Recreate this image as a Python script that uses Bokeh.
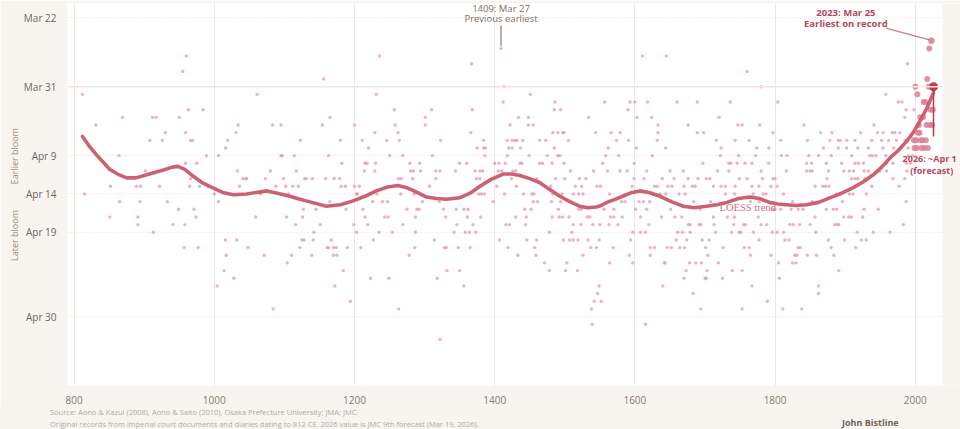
from bokeh.plotting import figure
from bokeh.layouts import column
from bokeh.models import Range1d, FixedTicker, Label, Span, Div, BoxAnnotation
from bokeh.embed import file_html
from bokeh.resources import INLINE

# ---------------- data ----------------
x_ticks = [800, 1000, 1200, 1400, 1600, 1800, 2000]
y_ticks = [81, 90, 99, 104, 109, 120]
y_tick_labels = ["Mar 22", "Mar 31", "Apr 9", "Apr 14", "Apr 19", "Apr 30"]

# observed full-flowering day-of-year rows, with the years recorded on each row
row_doy = [85, 86, 87, 88, 89, 90, 91, 92, 93, 94, 95, 96, 97, 98, 99, 100, 101, 102, 103,
           104, 105, 106, 107, 108, 109, 110, 111, 112, 113, 114, 115, 116, 117, 118, 119, 121, 123]
row_years = [
    [1409],
    [960, 1236, 1611, 1645],
    [1367, 1989],
    [955, 1760],
    [1156],
    [1413, 1780],
    [812, 1061, 1231, 1451, 1958],
    [1412, 1486, 1557, 1593, 1600, 1618, 1660, 1689, 1736, 1804, 1976, 1981],
    [963, 984, 1257, 1310, 1368, 1485, 1494, 1590, 1987, 1998],
    [869, 912, 917, 950, 1165, 1301, 1434, 1448, 1534, 1603, 1624, 1720, 1985],
    [831, 1034, 1083, 1095, 1154, 1200, 1258, 1301, 1422, 1448, 1455, 1633, 1676, 1747, 1753,
     1778, 1841, 1941],
    [930, 959, 1031, 1229, 1262, 1366, 1483, 1490, 1497, 1499, 1544, 1566, 1579, 1633, 1689,
     1698, 1797, 1865, 1881, 1922, 1946, 1954, 1967, 1971, 1978],
    [908, 926, 966, 969, 1019, 1123, 1180, 1211, 1246, 1264, 1323, 1384, 1418, 1425, 1429, 1432,
     1440, 1464, 1473, 1505, 1574, 1591, 1632, 1716, 1743, 1763, 1808, 1846, 1878, 1890, 1893,
     1902, 1914, 1938, 1952, 1962, 1973, 1985],
    [1016, 1220, 1375, 1384, 1387, 1420, 1425, 1437, 1485, 1562, 1602, 1644, 1723, 1774, 1791,
     1869, 1890, 1902, 1918, 1933, 1954, 1969, 1979, 1990],
    [864, 989, 1006, 1095, 1097, 1114, 1163, 1250, 1269, 1311, 1386, 1418, 1449, 1475, 1490,
     1493, 1558, 1577, 1625, 1722, 1748, 1772, 1809, 1817, 1848, 1862, 1880, 1909, 1935, 1939,
     1944, 1958, 1990, 1996],
    [959, 975, 1182, 1215, 1218, 1230, 1279, 1293, 1350, 1360, 1400, 1406, 1415, 1436, 1439,
     1464, 1468, 1482, 1499, 1554, 1599, 1697, 1734, 1737, 1746, 1757, 1767, 1791, 1845, 1852,
     1873, 1895, 1914, 1919, 1926, 1959, 1968, 1987, 1993],
    [902, 1033, 1080, 1117, 1214, 1229, 1280, 1284, 1294, 1316, 1322, 1344, 1372, 1379, 1383,
     1405, 1410, 1426, 1430, 1508, 1541, 1561, 1579, 1589, 1617, 1650, 1669, 1718, 1734, 1780,
     1816, 1845, 1850, 1853, 1876, 1898, 1906, 1912, 1927, 1933, 1949, 1959, 1988],
    [966, 1041, 1045, 1046, 1073, 1099, 1129, 1131, 1140, 1159, 1171, 1179, 1263, 1267, 1283,
     1316, 1374, 1379, 1424, 1460, 1487, 1500, 1521, 1530, 1599, 1613, 1639, 1656, 1676, 1690,
     1702, 1707, 1749, 1760, 1782, 1797, 1800, 1874, 1909, 1914, 1918, 1928, 1968, 1985],
    [852, 889, 895, 922, 965, 979, 991, 1036, 1088, 1102, 1112, 1120, 1181, 1187, 1200, 1207,
     1307, 1403, 1431, 1480, 1515, 1524, 1546, 1551, 1596, 1628, 1632, 1647, 1653, 1670, 1682,
     1686, 1712, 1723, 1729, 1743, 1767, 1777, 1794, 1803, 1857, 1868, 1872, 1877, 1938, 1977],
    [815, 1000, 1066, 1106, 1203, 1204, 1232, 1266, 1285, 1377, 1381, 1385, 1414, 1441, 1453,
     1456, 1483, 1496, 1512, 1520, 1526, 1564, 1626, 1636, 1644, 1663, 1672, 1729, 1742, 1769,
     1783, 1787, 1812, 1888, 1906, 1911, 1930],
    [865, 894, 933, 1006, 1165, 1226, 1240, 1247, 1297, 1321, 1398, 1455, 1461, 1481, 1494,
     1581, 1586, 1606, 1612, 1621, 1684, 1708, 1765, 1777, 1825, 1853, 1896, 1987],
    [949, 971, 1127, 1145, 1188, 1212, 1275, 1289, 1292, 1327, 1345, 1356, 1362, 1443, 1452,
     1491, 1520, 1524, 1556, 1570, 1601, 1617, 1651, 1693, 1796, 1800, 1808, 1823, 1833, 1840,
     1873, 1883, 1888, 1927, 1947],
    [851, 891, 974, 1059, 1103, 1126, 1215, 1243, 1248, 1287, 1330, 1361, 1380, 1430, 1445,
     1482, 1492, 1497, 1506, 1532, 1536, 1565, 1570, 1582, 1608, 1638, 1657, 1667, 1712, 1732,
     1742, 1776, 1857, 1898, 1905, 1909, 1925],
    [891, 941, 958, 1116, 1151, 1199, 1219, 1269, 1346, 1369, 1416, 1421, 1444, 1512, 1523,
     1540, 1550, 1563, 1576, 1620, 1676, 1679, 1692, 1694, 1713, 1741, 1755, 1758, 1780, 1788,
     1821, 1826, 1835, 1850, 1885, 1889, 1891, 1983],
    [913, 1142, 1203, 1235, 1254, 1287, 1342, 1358, 1364, 1373, 1478, 1510, 1597, 1608, 1615,
     1661, 1668, 1679, 1715, 1738, 1749, 1751, 1769, 1796, 1803, 1812, 1858, 1917, 1940, 1964],
    [1016, 1032, 1125, 1128, 1141, 1167, 1227, 1314, 1407, 1446, 1460, 1498, 1507, 1512, 1519,
     1533, 1549, 1594, 1659, 1674, 1696, 1706, 1777, 1814, 1820, 1876, 1899, 1923, 1930],
    [957, 977, 1048, 1122, 1161, 1163, 1170, 1174, 1190, 1209, 1286, 1328, 1331, 1348, 1365,
     1419, 1457, 1537, 1545, 1569, 1622, 1628, 1646, 1652, 1664, 1671, 1701, 1726, 1756, 1763,
     1833, 1836, 1880, 1915],
    [1017, 1071, 1110, 1139, 1170, 1175, 1278, 1433, 1459, 1526, 1592, 1622, 1704, 1765, 1794,
     1828, 1831, 1846, 1859, 1884],
    [1104, 1471, 1503, 1564, 1597, 1642, 1643, 1678, 1687, 1695, 1719, 1805, 1825, 1830],
    [1014, 1184, 1332, 1350, 1478, 1501, 1518, 1673, 1703, 1739, 1753, 1891],
    [1028, 1223, 1249, 1318, 1670, 1700, 1702, 1725, 1806],
    [1004, 1172, 1356, 1549, 1640, 1767, 1862],
    [1547, 1683, 1862],
    [1194, 1542, 1552, 1789],
    [1084, 1263, 1538, 1694, 1753, 1811, 1838],
    [1539, 1615],
    [1322],
]

# recent decades (drawn larger)
recent_year = [1998, 1999, 2000, 2001, 2002, 2003, 2004, 2005, 2006, 2007, 2008, 2009, 2010,
               2011, 2012, 2013, 2014, 2015, 2016, 2017, 2018, 2019, 2020, 2021, 2022, 2024, 2025]
recent_doy = [97, 98, 90, 97, 98, 91, 96, 95, 96, 94, 97, 98, 97,
              94, 92, 98, 92, 97, 95, 89, 98, 90, 85, 95, 93, 95, 93]

record_year = [2023]
record_doy = [84]
forecast_year = [2026]
forecast_doy = [90]

# LOESS trend line
trend_year = [812, 822, 832, 842, 851, 862, 875, 888, 900, 915, 930, 940, 948, 958, 970, 984,
              998, 1012, 1027, 1046, 1060, 1075, 1090, 1108, 1122, 1135, 1160, 1180, 1198, 1215,
              1231, 1247, 1262, 1275, 1285, 1303, 1317, 1331, 1350, 1365, 1379, 1395, 1412, 1424,
              1436, 1450, 1464, 1478, 1493, 1507, 1521, 1533, 1545, 1552, 1560, 1572, 1585, 1596,
              1607, 1620, 1636, 1652, 1669, 1685, 1702, 1717, 1731, 1748, 1764, 1778, 1792, 1804,
              1816, 1830, 1845, 1862, 1878, 1895, 1911, 1926, 1940, 1952, 1964, 1976, 1987, 1997,
              2006, 2016, 2026]
trend_doy = [96.5, 97.8, 98.9, 99.9, 100.8, 101.4, 101.9, 101.9, 101.6, 101.2, 100.8, 100.5,
             100.4, 100.8, 101.7, 102.6, 103.2, 103.8, 104.1, 104.0, 103.8, 103.6, 103.9, 104.3,
             104.7, 105.0, 105.6, 105.4, 104.9, 104.3, 103.6, 103.1, 102.9, 103.2, 103.6, 104.4,
             104.6, 104.7, 104.5, 103.9, 103.0, 102.1, 101.4, 101.4, 101.6, 102.0, 102.5, 103.4,
             104.3, 105.0, 105.6, 105.8, 105.7, 105.5, 105.1, 104.7, 104.2, 103.8, 103.6, 103.8,
             104.3, 105.0, 105.6, 105.8, 105.6, 105.4, 105.1, 104.6, 104.4, 104.6, 105.1, 105.3,
             105.4, 105.5, 105.4, 105.1, 104.5, 103.9, 103.2, 102.4, 101.5, 100.5, 99.3, 98.3,
             97.2, 96.0, 94.6, 92.9, 90.8]

obs_year = [yr for yrs in row_years for yr in yrs]
obs_doy = [d for d, yrs in zip(row_doy, row_years) for _ in yrs]

source_note = "Source: Aono &amp; Kazui (2008), Aono &amp; Saito (2010), Osaka Prefecture University; JMA; JMC."
records_note = ("Original records from imperial court documents and diaries dating to 812 CE. "
                "2026 value is JMC 9th forecast (Mar 19, 2026).")
author = "John Bistline"

# ---------------- main figure ----------------
BEIGE = "#f8f5f0"
FONT = "Open Sans"
NB = "\u00a0"
PLOT_END = 2038.8   # right edge of the white plotting area

p = figure(width=960, height=406, output_backend="svg", toolbar_location=None, title=None,
           x_range=Range1d(790.6, 2064.5), y_range=Range1d(129.0, 79.14),
           min_border_left=67, min_border_right=0, min_border_top=3, min_border_bottom=19,
           background_fill_color="#ffffff", border_fill_color=BEIGE, outline_line_color=None)

p.xaxis.ticker = FixedTicker(ticks=x_ticks)
p.yaxis.ticker = FixedTicker(ticks=y_ticks)
p.yaxis.major_label_overrides = {t: s for t, s in zip(y_ticks, y_tick_labels)}
for ax in (p.xaxis[0], p.yaxis[0]):
    ax.axis_line_color = None
    ax.major_tick_line_color = None
    ax.minor_tick_line_color = None
    ax.major_label_text_font = FONT
    ax.major_label_text_font_size = "10px"
p.yaxis.major_label_text_color = "#6f655d"
p.xaxis.major_label_text_color = "#857a71"
p.yaxis.major_label_standoff = 5
p.xaxis.major_label_standoff = 4

# side label: "Later bloom" (lower) ... "Earlier bloom" (upper), read bottom-to-top
p.yaxis.axis_label = "Later bloom" + NB * 11 + "Earlier bloom"
p.yaxis.axis_label_text_font = FONT
p.yaxis.axis_label_text_font_size = "9px"
p.yaxis.axis_label_text_font_style = "normal"
p.yaxis.axis_label_text_color = "#9a8f86"
p.yaxis.axis_label_standoff = 0

# grids
p.xgrid.grid_line_color = "#ece8e3"
p.xgrid.grid_line_width = 1
p.ygrid.grid_line_color = "#eadcd6"
p.ygrid.grid_line_dash = "1 2"
p.ygrid.grid_line_width = 1
p.add_layout(Span(location=90, dimension="width", line_color="#f2e7e2", line_width=1.5))
# beige margin strip to the right of the plotting area
p.add_layout(BoxAnnotation(left=PLOT_END, fill_color=BEIGE, fill_alpha=1.0, line_color=None))

# observations
p.scatter(obs_year, obs_doy, size=3.4, color="#e592a6", alpha=0.7, line_color=None)
p.scatter(recent_year, recent_doy, size=6.0, color="#dc8196", alpha=0.85, line_color=None)
p.scatter(record_year, record_doy, size=6.5, color="#d9899a", alpha=0.95, line_color=None)

# trend
p.line(trend_year, trend_doy, line_color="#c85a6c", line_width=3.6, line_alpha=0.95,
       line_join="round", line_cap="round")

p.scatter(forecast_year, forecast_doy, size=9, color="#c9374f", line_color=None)

# annotation leader lines
p.segment(x0=[1409], y0=[82.0], x1=[1409], y1=[84.73], line_color="#6e625a", line_width=1)
p.segment(x0=[1958], y0=[82.35], x1=[2020.2], y1=[83.88], line_color="#c97e8d", line_width=1.3)
p.segment(x0=[2026], y0=[90], x1=[2026], y1=[96.5], line_color="#c0394f", line_width=1.5)


def lab(fig, x, y, text, size="9.5px", color="#7a6f67", style="normal", align="center",
        font=FONT):
    fig.add_layout(Label(x=x, y=y, text=text, text_font=font, text_font_size=size,
                         text_color=color, text_font_style=style, text_align=align,
                         text_baseline="middle"))


lab(p, 1409, 79.73, "1409: Mar 27")
lab(p, 1409, 81.09, "Previous earliest")
lab(p, 1901, 80.25, "2023: Mar 25", color="#b4475b", style="bold")
lab(p, 1901, 81.8, "Earliest on record", color="#b4475b", style="bold")
lab(p, 2020.5, 99.39, "2026: ~Apr 1", size="9px", color="#b4475b", style="bold")
lab(p, 2023.5, 100.95, "(forecast)", size="9px", color="#b4475b", style="bold")
lab(p, 1720.7, 105.76, "LOESS trend", size="10.5px", color="#c47283", align="left",
    font="Liberation Serif")

# ---------------- footer strip ----------------
span_css = "position:absolute;white-space:nowrap;line-height:12px;font-family:'Open Sans';"
footer_html = (
    f'<div style="position:relative;width:960px;height:23px;background:{BEIGE};">'
    f'<span style="{span_css}left:50px;top:0px;font-size:7.5px;color:#b3a99f;">{source_note}</span>'
    f'<span style="{span_css}left:50px;top:12px;font-size:7.5px;color:#b3a99f;">{records_note}</span>'
    f'<span style="{span_css}left:842px;top:11px;font-size:9px;font-weight:bold;color:#6e6259;">{author}</span>'
    '</div>'
)
footer = Div(text=footer_html, width=960, height=23, margin=0,
             styles={"background-color": BEIGE, "overflow": "hidden"})

layout = column(p, footer, spacing=0)
open("out.html", "w").write(file_html(layout, INLINE))
